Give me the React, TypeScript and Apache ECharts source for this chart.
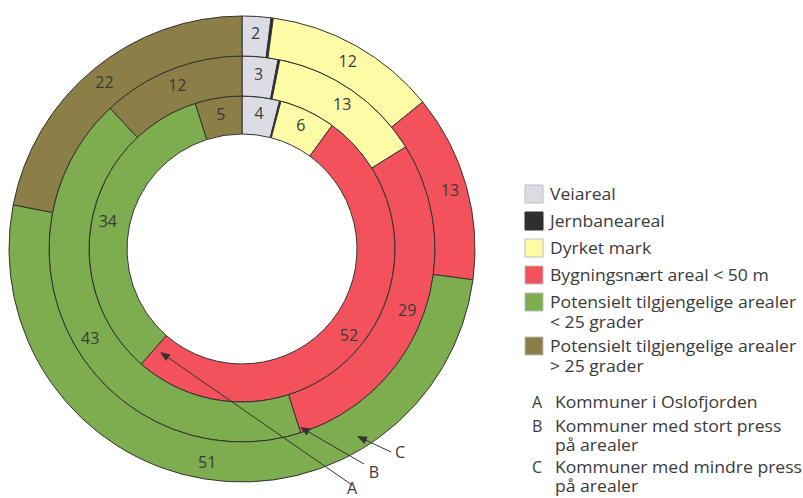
import React, { useEffect, useRef } from "react";
import * as echarts from "echarts";

const categories = [
  "Veiareal",
  "Jernbaneareal",
  "Dyrket mark",
  "Bygningsnært areal < 50 m",
  "Potensielt tilgjengelige arealer < 25 grader",
  "Potensielt tilgjengelige arealer > 25 grader",
];
const legendLabels = [
  "Veiareal",
  "Jernbaneareal",
  "Dyrket mark",
  "Bygningsnært areal < 50 m",
  "Potensielt tilgjengelige arealer\n< 25 grader",
  "Potensielt tilgjengelige arealer\n> 25 grader",
];
const colors = ["#dcdce5", "#2e2e2e", "#fdfba6", "#f3525d", "#7dad4e", "#8b7f47"];

// A: Kommuner i Oslofjorden (inner ring)
const ringA = [4, 0.15, 6, 52, 34, 5];
// B: Kommuner med stort press på arealer (middle ring)
const ringB = [3, 0.15, 13, 29, 43, 12];
// C: Kommuner med mindre press på arealer (outer ring)
const ringC = [2, 0.15, 12, 13, 51, 22];

const ringLetters = ["A", "B", "C"];
const ringNames = [
  "Kommuner i Oslofjorden",
  "Kommuner med stort press\npå arealer",
  "Kommuner med mindre press\npå arealer",
];

const FONT = "'Open Sans', 'Noto Sans', sans-serif";
const TEXT = "#3a3a3a";

export default function App() {
  const ref = useRef<HTMLDivElement>(null);
  useEffect(() => {
    document.body.style.margin = "0";
    const chart = echarts.init(ref.current!, null, { renderer: "svg" });
    const cx = 242;
    const cy = 249;
    const radii = [
      [115, 153],
      [153, 193],
      [193, 233],
    ];
    const rings = [ringA, ringB, ringC];
    const series = rings.map((vals, i) => ({
      type: "pie",
      name: ringLetters[i],
      center: [cx, cy],
      radius: radii[i],
      startAngle: 90,
      clockwise: true,
      silent: true,
      avoidLabelOverlap: false,
      labelLine: { show: false },
      itemStyle: { borderColor: "#333", borderWidth: 1 },
      label: {
        show: true,
        position: "inside",
        color: TEXT,
        fontFamily: FONT,
        fontSize: 16,
        formatter: (p: any) => (p.value < 1 ? "" : String(p.value)),
      },
      data: vals.map((v, k) => ({
        name: categories[k],
        value: v,
        itemStyle: { color: colors[k] },
      })),
    }));

    const LH = 20;
    const LH2 = 19;
    const FS = 16;
    const SX = 1.1;
    // legend drawn as graphic
    const graphics: any[] = [];
    let y = 185;
    legendLabels.forEach((lab, k) => {
      graphics.push({
        type: "rect",
        shape: { x: 525, y, width: 18, height: 18 },
        style: { fill: colors[k], stroke: k === 1 ? "#2e2e2e" : "#bdbdbd", lineWidth: 1 },
      });
      graphics.push({
        type: "text",
        x: 550,
        y: y + 9 - LH / 2,
        scaleX: SX,
        style: {
          text: lab,
          fontFamily: FONT,
          fontSize: FS,
          fill: TEXT,
          verticalAlign: "top",
          lineHeight: LH,
        },
      });
      const lines = lab.split("\n").length;
      y += lines > 1 ? 44 : 27;
    });
    // ring name legend
    let y2 = 402;
    ringLetters.forEach((l, k) => {
      graphics.push({
        type: "text",
        x: 532,
        y: y2 - LH2 / 2,
        style: {
          text: l,
          fontFamily: FONT,
          fontSize: FS,
          fill: TEXT,
          verticalAlign: "top",
          lineHeight: LH2,
        },
      });
      graphics.push({
        type: "text",
        x: 555,
        y: y2 - LH2 / 2,
        scaleX: SX,
        style: {
          text: ringNames[k],
          fontFamily: FONT,
          fontSize: FS,
          fill: TEXT,
          verticalAlign: "top",
          lineHeight: LH2,
        },
      });
      y2 += ringNames[k].split("\n").length > 1 ? 41 : 24;
    });

    // pointer arrows
    const arrows = [
      { l: "A", sx: 352, sy: 485, tx: 160, ty: 352, lx: 352, ly: 488 },
      { l: "B", sx: 364, sy: 464, tx: 300, ty: 427, lx: 374, ly: 472 },
      { l: "C", sx: 391, sy: 452, tx: 357, ty: 436, lx: 400, ly: 452 },
    ];
    arrows.forEach((a) => {
      const dx = a.tx - a.sx;
      const dy = a.ty - a.sy;
      const len = Math.sqrt(dx * dx + dy * dy);
      const ux = dx / len;
      const uy = dy / len;
      const bx = a.tx - ux * 10;
      const by = a.ty - uy * 10;
      graphics.push({
        type: "line",
        shape: { x1: a.sx, y1: a.sy, x2: bx, y2: by },
        style: { stroke: "#333", lineWidth: 1 },
        z: 100,
      });
      graphics.push({
        type: "polygon",
        shape: {
          points: [
            [a.tx, a.ty],
            [bx - uy * 4, by + ux * 4],
            [bx + uy * 4, by - ux * 4],
          ],
        },
        style: { fill: "#333" },
        z: 100,
      });
      graphics.push({
        type: "text",
        x: a.lx,
        y: a.ly,
        style: {
          text: a.l,
          fontFamily: FONT,
          fontSize: 16,
          lineHeight: 16,
          fill: TEXT,
          align: "center",
          verticalAlign: "middle",
        },
        z: 100,
      });
    });

    chart.setOption({
      animation: false,
      backgroundColor: "#ffffff",
      series,
      graphic: graphics,
    });
    return () => chart.dispose();
  }, []);
  return <div ref={ref} style={{ width: 803, height: 498 }} />;
}
